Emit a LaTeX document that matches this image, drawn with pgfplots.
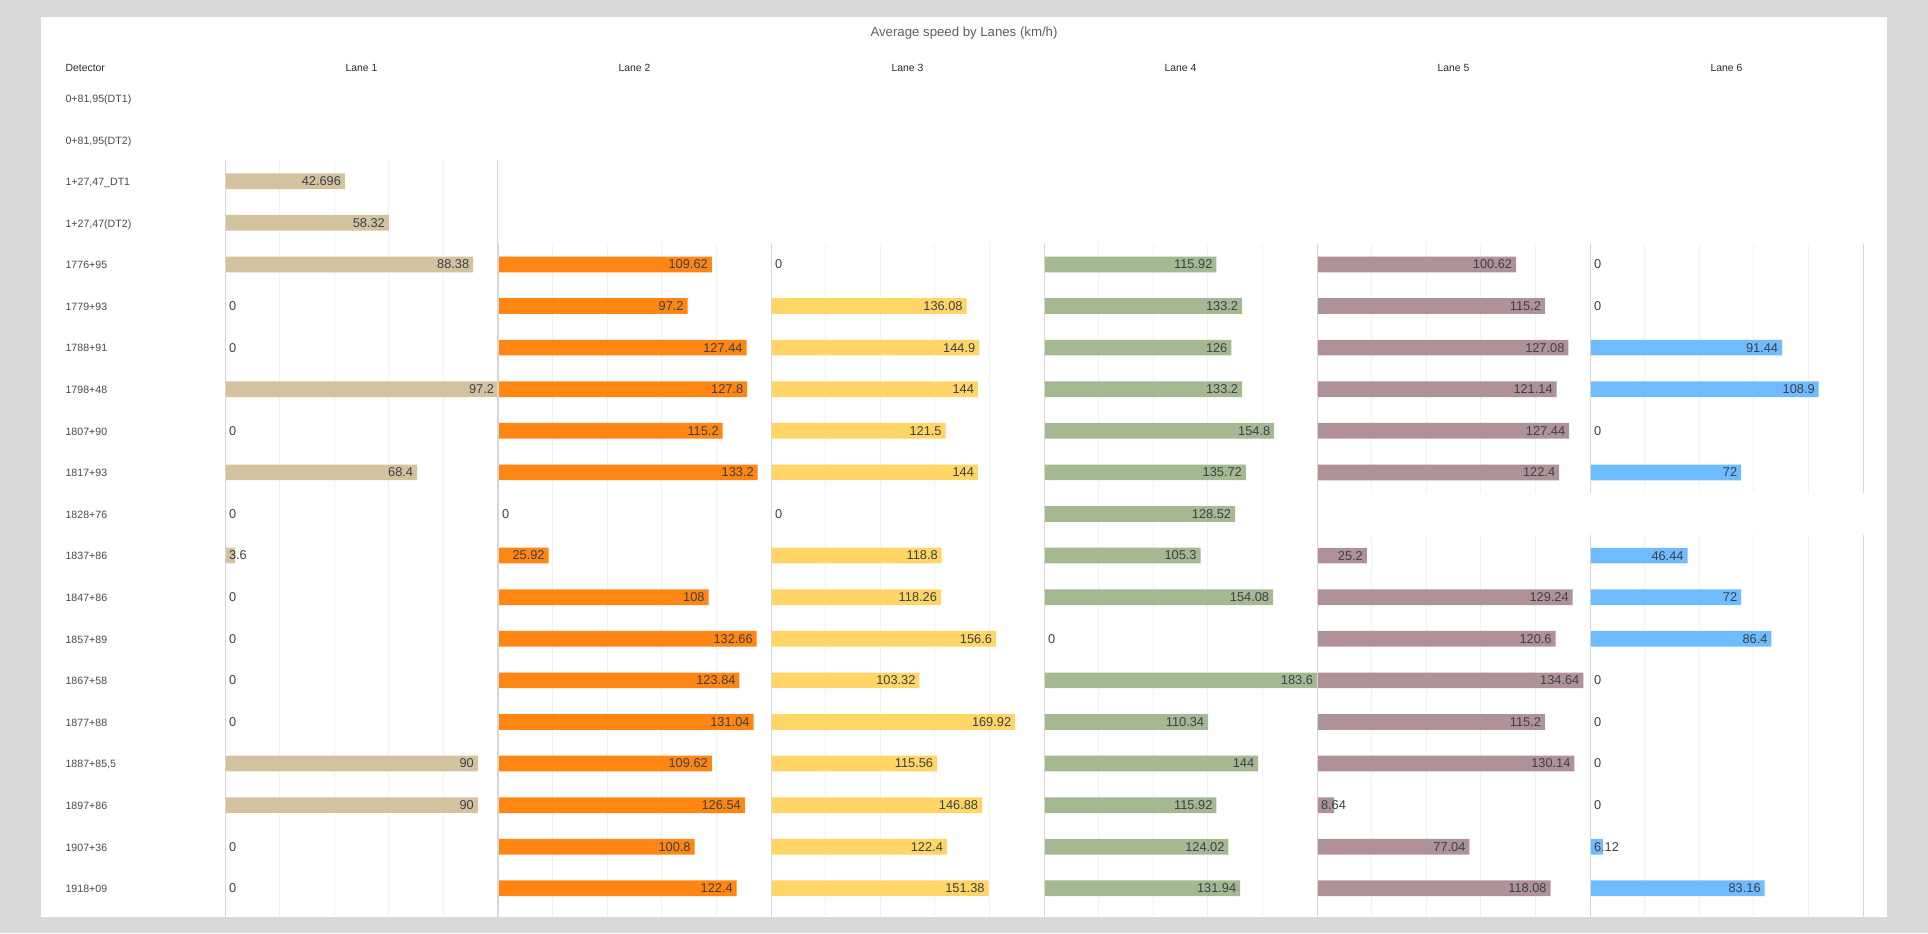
\documentclass[border=0pt]{standalone}
\usepackage{pgfplots}
\pgfplotsset{compat=1.18}
\usepackage{fontspec}
\setmainfont{Liberation Sans}
\definecolor{bgc}{HTML}{D9D9D9}
\definecolor{gridc}{HTML}{F2F2F2}
\definecolor{axc}{HTML}{D6D6D6}
\definecolor{labc}{HTML}{3B4048}
\definecolor{rowc}{HTML}{4A4A4A}
\definecolor{hdrc}{HTML}{2A2A2A}
\definecolor{titc}{HTML}{5E5E5E}
\definecolor{cA}{HTML}{D2C29D}
\definecolor{cB}{HTML}{FF8612}
\definecolor{cC}{HTML}{FFD665}
\definecolor{cD}{HTML}{A4B892}
\definecolor{cE}{HTML}{AF9297}
\definecolor{cF}{HTML}{6EBCFF}
\newcommand\vfont{\fontsize{6.4}{7}\selectfont}
\newcommand\rfont{\fontsize{5.3}{6}\selectfont}
\newcommand\hfont{\fontsize{5.2}{6}\selectfont}
\newcommand\tfont{\fontsize{6.6}{8}\selectfont}
\pgfplotsset{
  lane/.style={scale only axis, width=136.5pt, xmin=0, y dir=reverse,
    anchor=north west, axis line style={draw=none}, ytick=\empty,
    xticklabels={}, major tick length=0pt, xmajorgrids,
    major grid style={gridc, line width=0.6pt}, clip=false},
  bars/.style={xbar, bar shift=0pt, bar width=7.85pt, draw=none, fill=#1},
  inlab/.style={xbar, bar shift=0pt, bar width=7.85pt, draw=none, fill=none,
    nodes near coords, point meta=explicit symbolic,
    nodes near coords align={anchor=east},
    every node near coord/.append style={font=\vfont, text=labc, inner sep=0pt, xshift=-1.8pt}},
  leftlab/.style={xbar, bar shift=0pt, bar width=7.85pt, draw=none, fill=none,
    nodes near coords, point meta=explicit symbolic,
    nodes near coords align={anchor=west},
    every node near coord/.append style={font=\vfont, text=labc, inner sep=0pt, xshift=1.8pt}},
}
\newcommand\edges{\draw[axc, line width=0.5pt] (rel axis cs:0,0) -- (rel axis cs:0,1);
  \draw[axc, line width=0.5pt] (rel axis cs:1,0) -- (rel axis cs:1,1);}
\begin{document}
\begin{tikzpicture}
\fill[bgc] (0pt,0pt) rectangle (964pt,-466.5pt);
\fill[white] (20.5pt,-8.5pt) rectangle (943.5pt,-458.3pt);
\node[font=\tfont, text=titc] at (482pt,-16.4pt) {Average speed by Lanes (km/h)};
\node[font=\hfont, text=hdrc, anchor=base west, inner sep=0pt] at (32.6pt,-35.6pt) {Detector};
\foreach \i/\cx in {1/180.75,2/317.25,3/453.75,4/590.25,5/726.75,6/863.25}
  \node[font=\hfont, text=hdrc, anchor=base, inner sep=0pt] at (\cx pt,-35.6pt) {Lane \i};

% row labels
\begin{axis}[scale only axis, anchor=north west, at={(32.6pt,-38.6pt)},
  width=5pt, height=419.7pt, xmin=0, xmax=1, ymin=0.5, ymax=20.68, y dir=reverse,
  hide x axis, axis line style={draw=none}, major tick length=0pt,
  ytick={1,...,20},
  yticklabels={{0+81,95(DT1)},{0+81,95(DT2)},{1+27,47\_DT1},{1+27,47(DT2)},
    {1776+95},{1779+93},{1788+91},{1798+48},{1807+90},{1817+93},{1828+76},
    {1837+86},{1847+86},{1857+89},{1867+58},{1877+88},{1887+85,5},{1897+86},
    {1907+36},{1918+09}},
  yticklabel style={anchor=base west, yshift=-2.2pt, inner sep=0pt, font=\rfont, text=rowc}]
\end{axis}

% Lane 1
\begin{axis}[lane, at={(112.5pt,-80.2pt)}, height=378.1pt, xmax=97.2,
  ymin=2.5, ymax=20.68, xtick={19.44,38.88,58.32,77.76}]
\addplot[bars=cA] coordinates {(42.696,3) (58.32,4) (88.38,5) (0,6) (0,7) (97.2,8)
  (0,9) (68.4,10) (0,11) (3.6,12) (0,13) (0,14) (0,15) (0,16) (90,17) (90,18) (0,19) (0,20)};
\addplot[inlab] coordinates {(42.696,3) [42.696] (58.32,4) [58.32] (88.38,5) [88.38]
  (97.2,8) [97.2] (68.4,10) [68.4] (90,17) [90] (90,18) [90]};
\addplot[leftlab] coordinates {(0,6) [0] (0,7) [0] (0,9) [0] (0,11) [0] (0,12) [3.6]
  (0,13) [0] (0,14) [0] (0,15) [0] (0,16) [0] (0,19) [0] (0,20) [0]};
\edges
\end{axis}

% Lane 2
\begin{axis}[lane, at={(249pt,-121.8pt)}, height=336.5pt, xmax=140,
  ymin=4.5, ymax=20.68, xtick={28,56,84,112}]
\addplot[bars=cB] coordinates {(109.62,5) (97.2,6) (127.44,7) (127.8,8) (115.2,9)
  (133.2,10) (0,11) (25.92,12) (108,13) (132.66,14) (123.84,15) (131.04,16)
  (109.62,17) (126.54,18) (100.8,19) (122.4,20)};
\addplot[inlab] coordinates {(109.62,5) [109.62] (97.2,6) [97.2] (127.44,7) [127.44]
  (127.8,8) [127.8] (115.2,9) [115.2] (133.2,10) [133.2] (25.92,12) [25.92]
  (108,13) [108] (132.66,14) [132.66] (123.84,15) [123.84] (131.04,16) [131.04]
  (109.62,17) [109.62] (126.54,18) [126.54] (100.8,19) [100.8] (122.4,20) [122.4]};
\addplot[leftlab] coordinates {(0,11) [0]};
\edges
\end{axis}

% Lane 3
\begin{axis}[lane, at={(385.5pt,-121.8pt)}, height=336.5pt, xmax=190,
  ymin=4.5, ymax=20.68, xtick={38,76,114,152}]
\addplot[bars=cC] coordinates {(0,5) (136.08,6) (144.9,7) (144,8) (121.5,9)
  (144,10) (0,11) (118.8,12) (118.26,13) (156.6,14) (103.32,15) (169.92,16)
  (115.56,17) (146.88,18) (122.4,19) (151.38,20)};
\addplot[inlab] coordinates {(136.08,6) [136.08] (144.9,7) [144.9] (144,8) [144]
  (121.5,9) [121.5] (144,10) [144] (118.8,12) [118.8] (118.26,13) [118.26]
  (156.6,14) [156.6] (103.32,15) [103.32] (169.92,16) [169.92] (115.56,17) [115.56]
  (146.88,18) [146.88] (122.4,19) [122.4] (151.38,20) [151.38]};
\addplot[leftlab] coordinates {(0,5) [0] (0,11) [0]};
\edges
\end{axis}

% Lane 4
\begin{axis}[lane, at={(522pt,-121.8pt)}, height=336.5pt, xmax=183.6,
  ymin=4.5, ymax=20.68, xtick={36.72,73.44,110.16,146.88}]
\addplot[bars=cD] coordinates {(115.92,5) (133.2,6) (126,7) (133.2,8) (154.8,9)
  (135.72,10) (128.52,11) (105.3,12) (154.08,13) (0,14) (183.6,15) (110.34,16)
  (144,17) (115.92,18) (124.02,19) (131.94,20)};
\addplot[inlab] coordinates {(115.92,5) [115.92] (133.2,6) [133.2] (126,7) [126]
  (133.2,8) [133.2] (154.8,9) [154.8] (135.72,10) [135.72] (128.52,11) [128.52]
  (105.3,12) [105.3] (154.08,13) [154.08] (183.6,15) [183.6] (110.34,16) [110.34]
  (144,17) [144] (115.92,18) [115.92] (124.02,19) [124.02] (131.94,20) [131.94]};
\addplot[leftlab] coordinates {(0,14) [0]};
\edges
\end{axis}

% Lane 5 (two blocks)
\begin{axis}[lane, at={(658.5pt,-121.8pt)}, height=124.8pt, xmax=138,
  ymin=4.5, ymax=10.5, xtick={27.6,55.2,82.8,110.4}]
\addplot[bars=cE] coordinates {(100.62,5) (115.2,6) (127.08,7) (121.14,8) (127.44,9) (122.4,10)};
\addplot[inlab] coordinates {(100.62,5) [100.62] (115.2,6) [115.2] (127.08,7) [127.08]
  (121.14,8) [121.14] (127.44,9) [127.44] (122.4,10) [122.4]};
\edges
\end{axis}
\begin{axis}[lane, at={(658.5pt,-267.4pt)}, height=190.9pt, xmax=138,
  ymin=11.5, ymax=20.68, xtick={27.6,55.2,82.8,110.4}]
\addplot[bars=cE] coordinates {(25.2,12) (129.24,13) (120.6,14) (134.64,15) (115.2,16)
  (130.14,17) (8.64,18) (77.04,19) (118.08,20)};
\addplot[inlab] coordinates {(25.2,12) [25.2] (129.24,13) [129.24] (120.6,14) [120.6]
  (134.64,15) [134.64] (115.2,16) [115.2] (130.14,17) [130.14] (77.04,19) [77.04]
  (118.08,20) [118.08]};
\addplot[leftlab] coordinates {(0,18) [8.64]};
\edges
\end{axis}

% Lane 6 (two blocks)
\begin{axis}[lane, at={(795pt,-121.8pt)}, height=124.8pt, xmax=130,
  ymin=4.5, ymax=10.5, xtick={26,52,78,104}]
\addplot[bars=cF] coordinates {(0,5) (0,6) (91.44,7) (108.9,8) (0,9) (72,10)};
\addplot[inlab] coordinates {(91.44,7) [91.44] (108.9,8) [108.9] (72,10) [72]};
\addplot[leftlab] coordinates {(0,5) [0] (0,6) [0] (0,9) [0]};
\edges
\end{axis}
\begin{axis}[lane, at={(795pt,-267.4pt)}, height=190.9pt, xmax=130,
  ymin=11.5, ymax=20.68, xtick={26,52,78,104}]
\addplot[bars=cF] coordinates {(46.44,12) (72,13) (86.4,14) (0,15) (0,16) (0,17)
  (0,18) (6.12,19) (83.16,20)};
\addplot[inlab] coordinates {(46.44,12) [46.44] (72,13) [72] (86.4,14) [86.4]
  (83.16,20) [83.16]};
\addplot[leftlab] coordinates {(0,15) [0] (0,16) [0] (0,17) [0] (0,18) [0] (0,19) [6.12]};
\edges
\end{axis}
\end{tikzpicture}
\end{document}
